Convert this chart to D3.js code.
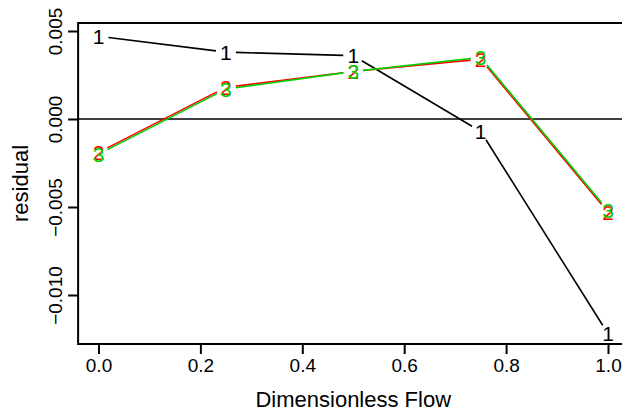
<!DOCTYPE html>
<html>
<head>
<meta charset="utf-8">
<script src="https://cdn.jsdelivr.net/npm/d3@7"></script>
<style>
  body { margin: 0; background: #fff; }
  svg text { font-family: "Liberation Sans", Arial, Helvetica, sans-serif; }
</style>
</head>
<body>
<div id="chart"></div>
<script>
// values
var flow = [0, 0.25, 0.5, 0.75, 1];
var res1 = [0.0047, 0.0038, 0.0036, -0.0007, -0.0122];
var res2 = [-0.0019, 0.0018, 0.0027, 0.0034, -0.0053];
var res3 = [-0.0020, 0.0017, 0.0027, 0.0035, -0.0052];
var seriesNames = ['1', '2', '3'];
var seriesCols = ['#000000', '#ff0000', '#00cd00'];
var xTicks = [0, 0.2, 0.4, 0.6, 0.8, 1.0];
var yTicks = [0.005, 0, -0.005, -0.010];

var W = 622, H = 412;
var svg = d3.select('#chart').append('svg')
  .attr('width', W).attr('height', H);

var x = d3.scaleLinear().domain([0, 1]).range([98.5, 608]);
var y = d3.scaleLinear().domain([-0.01, 0.005]).range([295, 31]);

var boxL = x(-0.04), boxR = x(1.04);
var boxT = 23, boxB = 344;

// zero line
svg.append('line')
  .attr('x1', boxL).attr('x2', boxR)
  .attr('y1', y(0)).attr('y2', y(0))
  .attr('stroke', '#000').attr('stroke-width', 1.6);

// series: lines with gaps round the number labels (type "b")
var all = [res1, res2, res3];
var gap = 10;
all.forEach(function (vals, k) {
  var g = svg.append('g');
  for (var i = 0; i < flow.length - 1; i++) {
    var x0 = x(flow[i]), y0 = y(vals[i]);
    var x1 = x(flow[i + 1]), y1 = y(vals[i + 1]);
    var dx = x1 - x0, dy = y1 - y0;
    var len = Math.sqrt(dx * dx + dy * dy);
    if (len <= 2 * gap) continue;
    var ux = dx / len, uy = dy / len;
    g.append('line')
      .attr('x1', x0 + ux * gap).attr('y1', y0 + uy * gap)
      .attr('x2', x1 - ux * gap).attr('y2', y1 - uy * gap)
      .attr('stroke', seriesCols[k]).attr('stroke-width', 1.6);
  }
  g.selectAll('text')
    .data(vals)
    .enter().append('text')
    .attr('x', function (d, i) { return x(flow[i]); })
    .attr('y', function (d) { return y(d); })
    .attr('text-anchor', 'middle')
    .attr('dominant-baseline', 'central')
    .attr('font-size', 21)
    .attr('fill', seriesCols[k])
    .text(seriesNames[k]);
});

// box
svg.append('rect')
  .attr('x', boxL).attr('y', boxT)
  .attr('width', boxR - boxL).attr('height', boxB - boxT)
  .attr('fill', 'none').attr('stroke', '#000').attr('stroke-width', 2);

// axes
var xAxis = svg.append('g')
  .attr('transform', 'translate(0,' + boxB + ')')
  .call(d3.axisBottom(x).tickValues(xTicks).tickSize(10).tickPadding(5)
    .tickFormat(d3.format('.1f')));
xAxis.select('.domain').remove();
xAxis.selectAll('line').attr('stroke-width', 2);
xAxis.selectAll('text').attr('font-size', 19).attr('fill', '#000');

var yAxis = svg.append('g')
  .attr('transform', 'translate(' + boxL + ',0)')
  .call(d3.axisLeft(y).tickValues(yTicks).tickSize(10)
    .tickFormat(function (d) { return d3.format('.3f')(d).replace('-', '\u2212'); }));
yAxis.select('.domain').remove();
yAxis.selectAll('line').attr('stroke-width', 2);
yAxis.selectAll('text')
  .attr('font-size', 19).attr('fill', '#000')
  .attr('x', null).attr('dy', null)
  .attr('text-anchor', 'middle')
  .attr('transform', 'translate(-16,0) rotate(-90)');

// axis titles
svg.append('text')
  .attr('x', (x(0) + x(1)) / 2).attr('y', 407)
  .attr('text-anchor', 'middle')
  .attr('font-size', 22)
  .text('Dimensionless Flow');

svg.append('text')
  .attr('transform', 'translate(28,' + ((boxT + boxB) / 2) + ') rotate(-90)')
  .attr('text-anchor', 'middle')
  .attr('font-size', 22)
  .text('residual');
</script>
</body>
</html>
